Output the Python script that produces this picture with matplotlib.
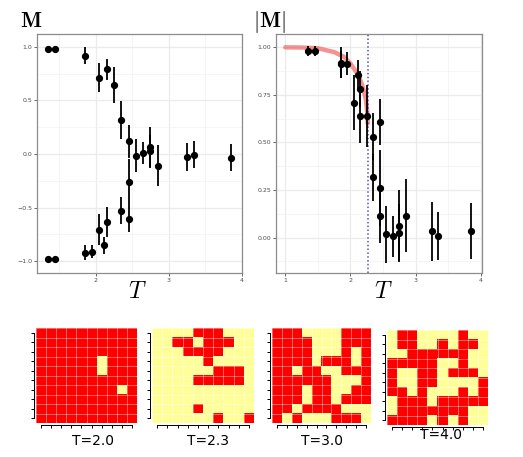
import numpy as np
import matplotlib
matplotlib.use('Agg')
import matplotlib.pyplot as plt
from matplotlib.colors import ListedColormap
from matplotlib.ticker import MultipleLocator

plt.rcParams['mathtext.fontset'] = 'cm'
plt.rcParams['font.family'] = 'DejaVu Sans'

# magnetisation M vs T
m_T = [1.35, 1.45, 1.85, 2.05, 2.15, 2.25, 2.35, 2.45, 2.45, 2.45, 2.35, 2.55, 2.65,
       2.75, 2.75, 2.85, 3.25, 3.35, 3.85, 1.85, 1.95, 2.05, 2.12, 2.15, 1.35, 1.45]
m_val = [0.978, 0.98, 0.916, 0.714, 0.789, 0.645, 0.319, 0.12, -0.263, -0.605, -0.527,
         -0.014, 0.008, 0.064, 0.03, -0.11, -0.03, -0.008, -0.036, -0.919, -0.913,
         -0.708, -0.851, -0.636, -0.984, -0.975]
m_err = [0.02, 0.02, 0.08, 0.135, 0.1, 0.165, 0.175, 0.155, 0.22, 0.12, 0.125,
         0.15, 0.105, 0.19, 0.15, 0.19, 0.13, 0.125, 0.125, 0.07, 0.06,
         0.145, 0.08, 0.14, 0.02, 0.02]

# |M| vs T
a_T = [1.35, 1.45, 1.85, 1.85, 1.95, 2.05, 2.12, 2.15, 2.15, 2.25, 2.35, 2.35, 2.45,
       2.45, 2.45, 2.55, 2.65, 2.75, 2.75, 2.85, 3.25, 3.35, 3.85]
a_val = [0.982, 0.98, 0.92, 0.91, 0.914, 0.71, 0.854, 0.782, 0.64, 0.64, 0.53, 0.316,
         0.607, 0.263, 0.116, 0.0175, 0.007, 0.06, 0.026, 0.116, 0.033, 0.009, 0.037]
a_err = [0.025, 0.025, 0.082, 0.07, 0.06, 0.147, 0.08, 0.095, 0.143, 0.162, 0.123,
         0.124, 0.12, 0.2, 0.145, 0.149, 0.107, 0.189, 0.15, 0.193, 0.156, 0.125, 0.147]

# theory curve
th_T = [1.0, 1.25, 1.5, 1.75, 1.9, 2.0, 2.1, 2.15, 2.2, 2.24, 2.26, 2.265]
th_M = [1.0, 0.999, 0.995, 0.975, 0.95, 0.915, 0.865, 0.83, 0.78, 0.72, 0.65, 0.6]
Tc = 2.269

# spin snapshots, 1 = red, 0 = yellow
grid_20 = ["1111111111", "1111111111", "1111111111", "1111110111", "1111110111",
           "1111111111", "1111111101", "1111111111", "1111111111", "1111111111"]
grid_23 = ["0000111000", "0011011100", "0001111000", "0000010000", "0000001110",
           "0000111110", "0000000000", "0000000000", "0000100000", "0000001001"]
grid_30 = ["1110000111", "1111000111", "1111000101", "1111011101", "1101100111",
           "1111110001", "1110110011", "1110110111", "1101111000", "1010001110"]
grid_40 = ["0110000100", "0110010110", "0011111100", "1111100100", "1001101110",
           "1001100001", "1101000101", "0111011111", "0111111100", "1111010100"]
grid_labels = ["T=2.0", "T=2.3", "T=3.0", "T=4.0"]

W, H = 523, 457
fig = plt.figure(figsize=(W / 100, H / 100), dpi=100)


def box(x0, y0, x1, y1):
    return [x0 / W, 1 - y1 / H, (x1 - x0) / W, (y1 - y0) / H]


def gg_axes(ax):
    for s in ax.spines.values():
        s.set_color('#8c8c8c')
        s.set_linewidth(0.9)
    ax.grid(which='major', color='#ebebeb', lw=0.9)
    ax.grid(which='minor', color='#f2f2f2', lw=0.5)
    ax.set_axisbelow(True)
    ax.tick_params(which='major', labelsize=4.5, colors='#4d4d4d', length=2, width=0.6, pad=1.5)
    ax.tick_params(which='minor', length=0)


ax1 = fig.add_axes(box(37, 34, 242, 273))
ax1.errorbar(m_T, m_val, yerr=m_err, fmt='o', color='black', ms=4.2, elinewidth=1.3, capsize=0)
ax1.set_xlim(1.2, 4.0)
ax1.set_ylim(-1.11, 1.12)
ax1.xaxis.set_major_locator(MultipleLocator(1))
ax1.xaxis.set_minor_locator(MultipleLocator(0.5))
ax1.yaxis.set_major_locator(MultipleLocator(0.5))
ax1.yaxis.set_minor_locator(MultipleLocator(0.25))
ax1.set_yticklabels([])
ax1.set_yticks([-1.0, -0.5, 0.0, 0.5, 1.0])
ax1.set_yticklabels(['\u22121.0', '\u22120.5', '0.0', '0.5', '1.0'])
gg_axes(ax1)

ax2 = fig.add_axes(box(276, 34, 482, 273))
ax2.plot(th_T, th_M, color='#ee3b3b', alpha=0.55, lw=3.2, solid_capstyle='round')
ax2.axvline(Tc, color='#5b4fc9', ls=(0, (1, 1.5)), lw=1.1)
ax2.errorbar(a_T, a_val, yerr=a_err, fmt='o', color='black', ms=4.2, elinewidth=1.3, capsize=0)
ax2.set_xlim(0.857, 4.02)
ax2.set_ylim(-0.186, 1.07)
ax2.xaxis.set_major_locator(MultipleLocator(1))
ax2.xaxis.set_minor_locator(MultipleLocator(0.5))
ax2.set_yticks([0.0, 0.25, 0.5, 0.75, 1.0])
ax2.set_yticklabels(['0.00', '0.25', '0.50', '0.75', '1.00'])
ax2.yaxis.set_minor_locator(MultipleLocator(0.125))
gg_axes(ax2)

fig.text(20 / W, 1 - 27 / H, r'$\mathbf{M}$', fontsize=16, va='baseline')
fig.text(253 / W, 1 - 27 / H, r'$|\mathbf{M}|$', fontsize=16, va='baseline')
fig.text(137 / W, 1 - 298 / H, r'$T$', fontsize=17, ha='center', va='baseline')
fig.text(383 / W, 1 - 298 / H, r'$T$', fontsize=17, ha='center', va='baseline')

cmap = ListedColormap(['#ffff99', '#ff0000'])
grid_boxes = [(36, 328, 137, 423), (152, 328, 254, 423), (272, 328, 371, 423), (387, 330, 488, 425)]
label_pos = [(93, 441), (208, 441), (322, 441), (441, 435)]
for rows, b, lab, lp in zip([grid_20, grid_23, grid_30, grid_40], grid_boxes, grid_labels, label_pos):
    arr = np.array([[int(c) for c in r] for r in rows])
    ax = fig.add_axes(box(*b))
    ax.imshow(arr, cmap=cmap, vmin=0, vmax=1, aspect='auto', interpolation='nearest')
    ax.set_xticks(np.arange(10))
    ax.set_yticks(np.arange(10))
    ax.set_xticklabels([])
    ax.set_yticklabels([])
    ax.set_xticks(np.arange(-0.5, 10, 1), minor=True)
    ax.set_yticks(np.arange(-0.5, 10, 1), minor=True)
    ax.grid(which='minor', color='white', alpha=0.45, lw=0.6)
    ax.tick_params(which='minor', length=0)
    ax.tick_params(which='major', length=2.5, width=0.7, pad=0)
    ax.spines['top'].set_visible(False)
    ax.spines['right'].set_visible(False)
    ax.spines['left'].set_bounds(0, 9)
    ax.spines['bottom'].set_bounds(0, 9)
    ax.spines['left'].set_position(('outward', 1.5))
    ax.spines['bottom'].set_position(('outward', 1.5))
    ax.spines['left'].set_linewidth(0.7)
    ax.spines['bottom'].set_linewidth(0.7)
    fig.text(lp[0] / W, 1 - lp[1] / H, lab, fontsize=10, ha='center', va='center')

fig.savefig('out.png', dpi=100)
